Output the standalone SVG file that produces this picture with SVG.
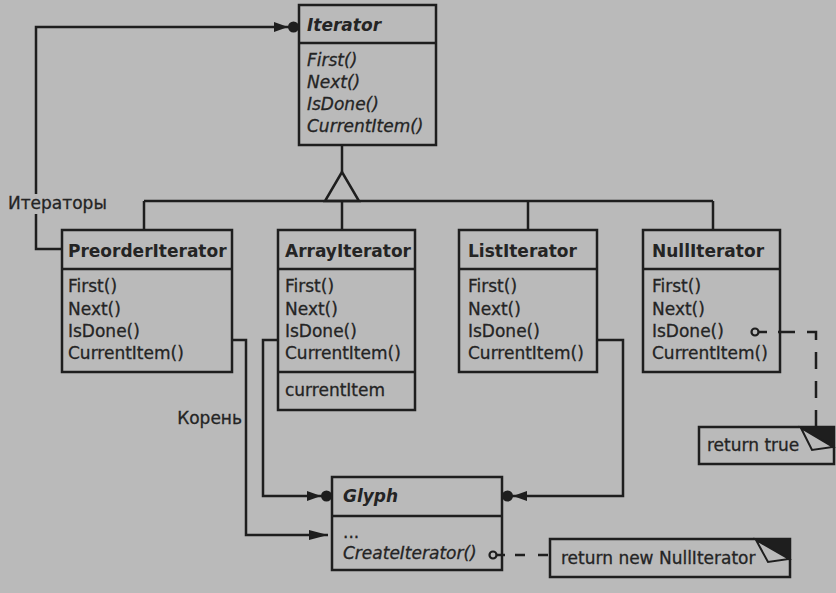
<svg xmlns="http://www.w3.org/2000/svg" width="836" height="593" viewBox="0 0 836 593">
  <style>
    .box { fill: #bababa; stroke: #1e1e1e; stroke-width: 2.5; }
    .ln { fill: none; stroke: #1e1e1e; stroke-width: 2.5; }
    .dash { fill: none; stroke: #1e1e1e; stroke-width: 2.5; stroke-dasharray: 17 12; }
    .t, .lbl { font-family: "DejaVu Sans", "Liberation Sans", sans-serif; font-size: 17px; fill: #242424; stroke: #242424; stroke-width: 0.3; }
    .b { font-weight: bold; stroke-width: 0; }
    .i { font-style: italic; }
    .pin { fill: #bababa; stroke: #1e1e1e; stroke-width: 2.2; }
  </style>
  <defs>
    <marker id="aggr" markerUnits="userSpaceOnUse" viewBox="0 0 26 12" markerWidth="26" markerHeight="12" refX="25" refY="6" orient="auto">
      <polygon points="0,1 14,6 0,11" fill="#1e1e1e"/>
      <circle cx="19.5" cy="6" r="5.5" fill="#1e1e1e"/>
    </marker>
    <marker id="arr" markerUnits="userSpaceOnUse" viewBox="0 0 20 12" markerWidth="20" markerHeight="12" refX="19" refY="6" orient="auto">
      <polygon points="0,1 19,6 0,11" fill="#1e1e1e"/>
    </marker>
  </defs>

  <rect x="0" y="0" width="836" height="593" fill="#bababa"/>

  <g id="Iterator">
    <rect class="box" x="299" y="5" width="137" height="140"/>
    <line class="ln" x1="299" y1="43" x2="436" y2="43"/>
    <text class="t b i" x="307" y="31">Iterator</text>
    <text class="t i" x="307" y="66">First()</text>
    <text class="t i" x="307" y="88">Next()</text>
    <text class="t i" x="307" y="110">IsDone()</text>
    <text class="t i" x="307" y="132">CurrentItem()</text>
  </g>

  <g id="PreorderIterator">
    <rect class="box" x="62" y="230" width="170" height="142"/>
    <line class="ln" x1="62" y1="269" x2="232" y2="269"/>
    <text class="t b" x="68" y="257">PreorderIterator</text>
    <text class="t" x="68" y="292">First()</text>
    <text class="t" x="68" y="315">Next()</text>
    <text class="t" x="68" y="337">IsDone()</text>
    <text class="t" x="68" y="359">CurrentItem()</text>
  </g>

  <g id="ArrayIterator">
    <rect class="box" x="278" y="230" width="137" height="180"/>
    <line class="ln" x1="278" y1="269" x2="415" y2="269"/>
    <line class="ln" x1="278" y1="372" x2="415" y2="372"/>
    <text class="t b" x="285" y="257">ArrayIterator</text>
    <text class="t" x="285" y="292">First()</text>
    <text class="t" x="285" y="315">Next()</text>
    <text class="t" x="285" y="337">IsDone()</text>
    <text class="t" x="285" y="359">CurrentItem()</text>
    <text class="t" x="285" y="396">currentItem</text>
  </g>

  <g id="ListIterator">
    <rect class="box" x="459" y="230" width="138" height="142"/>
    <line class="ln" x1="459" y1="269" x2="597" y2="269"/>
    <text class="t b" x="468" y="257">ListIterator</text>
    <text class="t" x="468" y="292">First()</text>
    <text class="t" x="468" y="315">Next()</text>
    <text class="t" x="468" y="337">IsDone()</text>
    <text class="t" x="468" y="359">CurrentItem()</text>
  </g>

  <g id="NullIterator">
    <rect class="box" x="643" y="230" width="137" height="142"/>
    <line class="ln" x1="643" y1="269" x2="780" y2="269"/>
    <text class="t b" x="652" y="257">NullIterator</text>
    <text class="t" x="652" y="292">First()</text>
    <text class="t" x="652" y="315">Next()</text>
    <text class="t" x="652" y="337">IsDone()</text>
    <text class="t" x="652" y="359">CurrentItem()</text>
  </g>

  <g id="Glyph">
    <rect class="box" x="332" y="477" width="170" height="93"/>
    <line class="ln" x1="332" y1="516" x2="502" y2="516"/>
    <text class="t b i" x="343" y="502">Glyph</text>
    <text class="t" x="343" y="538">...</text>
    <text class="t i" x="343" y="559">CreateIterator()</text>
  </g>

  <g id="note-return-true">
    <rect class="box" x="699" y="427" width="135" height="37"/>
    <polygon points="800,427 834,427 834,449" fill="#1e1e1e"/>
    <polygon points="801,428 833,447 812,450" fill="#bababa" stroke="#1e1e1e" stroke-width="2"/>
    <text class="t" x="707" y="451">return true</text>
  </g>

  <g id="note-return-new">
    <rect class="box" x="550" y="539" width="240" height="38"/>
    <polygon points="755,539 790,539 790,561" fill="#1e1e1e"/>
    <polygon points="756,540 789,559 768,562" fill="#bababa" stroke="#1e1e1e" stroke-width="2"/>
    <text class="t" x="561" y="564">return new NullIterator</text>
  </g>

  <g id="connectors">
    <!-- inheritance -->
    <line class="ln" x1="342" y1="145" x2="342" y2="172"/>
    <polygon class="box" points="342,172 325,201 359,201"/>
    <line class="ln" x1="144" y1="201" x2="713" y2="201"/>
    <line class="ln" x1="144" y1="201" x2="144" y2="230"/>
    <line class="ln" x1="342" y1="201" x2="342" y2="230"/>
    <line class="ln" x1="528" y1="201" x2="528" y2="230"/>
    <line class="ln" x1="713" y1="201" x2="713" y2="230"/>
    <!-- Итераторы -->
    <path class="ln" d="M62,249 H36 V214"/>
    <path class="ln" d="M36,194 V27 H299" marker-end="url(#aggr)"/>
    <text class="lbl" x="8" y="209">Итераторы</text>
    <!-- Корень -->
    <path class="ln" d="M232,340 H246 V535 H328" marker-end="url(#arr)"/>
    <text class="lbl" x="242" y="424" text-anchor="end">Корень</text>
    <!-- ArrayIterator -> Glyph -->
    <path class="ln" d="M278,340 H263 V496 H332" marker-end="url(#aggr)"/>
    <!-- ListIterator -> Glyph -->
    <path class="ln" d="M597,340 H623 V496 H502" marker-end="url(#aggr)"/>
    <!-- NullIterator IsDone note link -->
    <circle class="pin" cx="755" cy="332" r="3.5"/>
    <line class="ln" x1="758.5" y1="332" x2="767" y2="332"/>
    <path class="dash" d="M778,332 H816 V427"/>
    <!-- CreateIterator note link -->
    <circle class="pin" cx="493" cy="555" r="3.5"/>
    <line class="ln" x1="496.5" y1="555" x2="505" y2="555"/>
    <path class="ln" d="M515,555 H550" stroke-dasharray="10 13"/>
  </g>
</svg>
